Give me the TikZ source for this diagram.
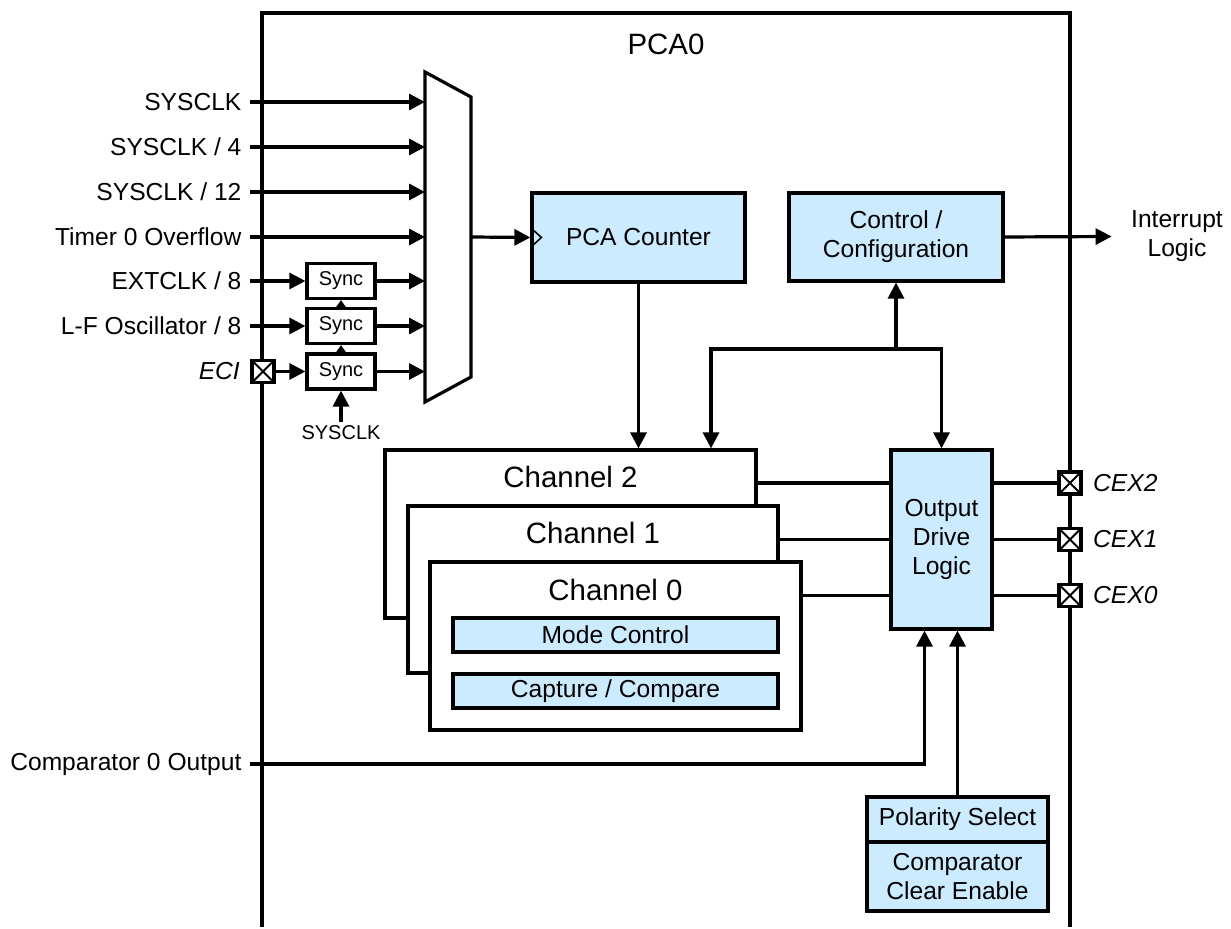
\documentclass[tikz,border=0pt]{standalone}
\usepackage{fontspec}
\setmainfont{Liberation Sans}
\usepackage{tikz}
\usetikzlibrary{arrows.meta, positioning, calc}
\definecolor{PCABlue}{RGB}{204, 235, 255}
\newcommand{\pcafont}{\fontsize{12.3}{14.5}\selectfont}
\newcommand{\pcasmall}{\fontsize{10}{12}\selectfont}
\newcommand{\pcabig}{\fontsize{14.7}{17}\selectfont}

\begin{document}
\begin{tikzpicture}[
    x=0.5pt, y=-0.5pt,
    line width=1.6pt,
    blk/.style={
        rectangle, draw, fill=PCABlue, align=center,
        inner sep=0pt, font=\pcafont
    },
    chn/.style={
        rectangle, draw, fill=white, inner sep=0pt
    },
    syncbox/.style={
        rectangle, draw, fill=white, minimum width=34pt,
        minimum height=17.5pt, inner sep=0pt, font=\pcasmall
    },
    pin/.style={
        rectangle, draw, fill=white, minimum size=11pt, inner sep=0pt,
        path picture={
            \draw[line width=1pt]
                (path picture bounding box.south west) -- (path picture bounding box.north east)
                (path picture bounding box.north west) -- (path picture bounding box.south east);
        }
    },
    lbl/.style={font=\pcafont, inner sep=3.5pt},
    arr/.style={-{Triangle[length=8pt, width=8pt]}},
    sarr/.style={-{Triangle[length=4.5pt, width=6pt]}}
]

\useasboundingbox (0,0) rectangle (1231,929);

% PCA0 block outline
\draw (262,927) -- (262,13) -- (1070,13) -- (1070,927);
\node[font=\pcabig] (title) at (666,44) {PCA0};

% clock select mux
\draw (425,72) -- (471,97) -- (471,377) -- (425,402) -- cycle;
\coordinate (muxL) at (425,237);
\coordinate (muxR) at (471,237);

% clock sources
\node[lbl, anchor=east] (sysclk)   at (250,102) {SYSCLK};
\node[lbl, anchor=east] (sysclk4)  at (250,147) {SYSCLK / 4};
\node[lbl, anchor=east] (sysclk12) at (250,192) {SYSCLK / 12};
\node[lbl, anchor=east] (tmr0)     at (250,237) {Timer 0 Overflow};
\node[lbl, anchor=east] (extclk)   at (250,281) {EXTCLK / 8};
\node[lbl, anchor=east] (lfosc)    at (250,326) {L-F Oscillator / 8};
\node[pin] (eci) at (263,371.5) {};
\node[lbl, left=1pt of eci, font=\pcafont\itshape] (ecilbl) {ECI};

\node[syncbox] (sync1) at (341,281)   {Sync};
\node[syncbox] (sync2) at (341,326)   {Sync};
\node[syncbox] (sync3) at (341,371.5) {Sync};
\node[font=\pcasmall, inner sep=1pt] (syncclk) at (341,433) {SYSCLK};

% counter and control
\node[blk, minimum width=106.5pt, minimum height=44.5pt] (cnt) at (638.5,237.5) {PCA Counter};
\draw[line width=0.8pt] ($(cnt.west)+(0,-10)$) -- ++(11,10) -- ++(-11,10);
\node[blk, minimum width=107pt, minimum height=44pt] (ctrl) at (896,237) {Control /\\Configuration};
\node[lbl, align=center, inner sep=0pt] (irq) at (1177,236.5) {Interrupt\\Logic};

% capture/compare channels
\node[chn, minimum width=185.5pt, minimum height=84pt] (ch2) at (570.5,534) {};
\node[font=\pcabig] (ch2t) at (570.5,477) {Channel 2};
\node[chn, minimum width=185pt, minimum height=83.5pt] (ch1) at (593,589.5) {};
\node[font=\pcabig] (ch1t) at (593,533) {Channel 1};
\node[chn, minimum width=185.5pt, minimum height=84pt] (ch0) at (615.5,646) {};
\node[font=\pcabig] (ch0t) at (615.5,590) {Channel 0};
\node[blk, minimum width=162.5pt, minimum height=17pt] (mode) at (615.5,635) {Mode Control};
\node[blk, minimum width=162.5pt, minimum height=17pt] (capt) at (615.5,691) {Capture / Compare};

% output side
\node[blk, minimum width=50.5pt, minimum height=89.5pt] (odl) at (941.5,539.5) {Output\\Drive\\Logic};
\node[pin] (cex2) at (1070,483) {};
\node[pin] (cex1) at (1070,539.5) {};
\node[pin] (cex0) at (1070,595.5) {};
\node[lbl, right=1pt of cex2, font=\pcafont\itshape] (cex2lbl) {CEX2};
\node[lbl, right=1pt of cex1, font=\pcafont\itshape] (cex1lbl) {CEX1};
\node[lbl, right=1pt of cex0, font=\pcafont\itshape] (cex0lbl) {CEX0};

\node[blk, minimum width=90.5pt, minimum height=22.5pt] (pol) at (957.5,819.5) {Polarity Select};
\node[blk, minimum width=90.5pt, minimum height=34.5pt, below=-1.6pt of pol] (clr) {Comparator\\Clear Enable};
\node[lbl, anchor=east] (cmp) at (250,764) {Comparator 0 Output};

% connections
\draw[arr] (sysclk.east)   -- (sysclk.east -| muxL);
\draw[arr] (sysclk4.east)  -- (sysclk4.east -| muxL);
\draw[arr] (sysclk12.east) -- (sysclk12.east -| muxL);
\draw[arr] (tmr0.east)     -- (tmr0.east -| muxL);
\draw[arr] (extclk.east)   -- (sync1.west);
\draw[arr] (lfosc.east)    -- (sync2.west);
\draw[arr] (eci.east)      -- (sync3.west);
\draw[arr] (sync1.east) -- (sync1.east -| muxL);
\draw[arr] (sync2.east) -- (sync2.east -| muxL);
\draw[arr] (sync3.east) -- (sync3.east -| muxL);
\draw[sarr] (sync3.north) -- (sync2.south);
\draw[sarr] (sync2.north) -- (sync1.south);
\draw[arr] (syncclk.north) -- (sync3.south);

\draw[arr] (muxR) -- (cnt.west);
\draw[arr] (cnt.south) -- (cnt.south |- ch2.north);

\coordinate (bus)  at (896,349);
\coordinate (busL) at (711,349);
\draw[arr] (bus) -- (ctrl.south);
\draw[arr] (bus) -| (odl.north);
\draw[arr] (bus) -- (busL) -- (busL |- ch2.north);
\draw[arr] (ctrl.east) -- ([xshift=-9pt]irq.west);

\draw (cex2 -| ch2.east) -- (cex2 -| odl.west);
\draw (cex1 -| ch1.east) -- (cex1 -| odl.west);
\draw (cex0 -| ch0.east) -- (cex0 -| odl.west);
\draw (cex2 -| odl.east) -- (cex2.west);
\draw (cex1 -| odl.east) -- (cex1.west);
\draw (cex0 -| odl.east) -- (cex0.west);

\draw[arr] (cmp.east) -| ($(odl.south)+(-17,0)$);
\draw[arr] (pol.north) -- (pol.north |- odl.south);

\end{tikzpicture}
\end{document}
